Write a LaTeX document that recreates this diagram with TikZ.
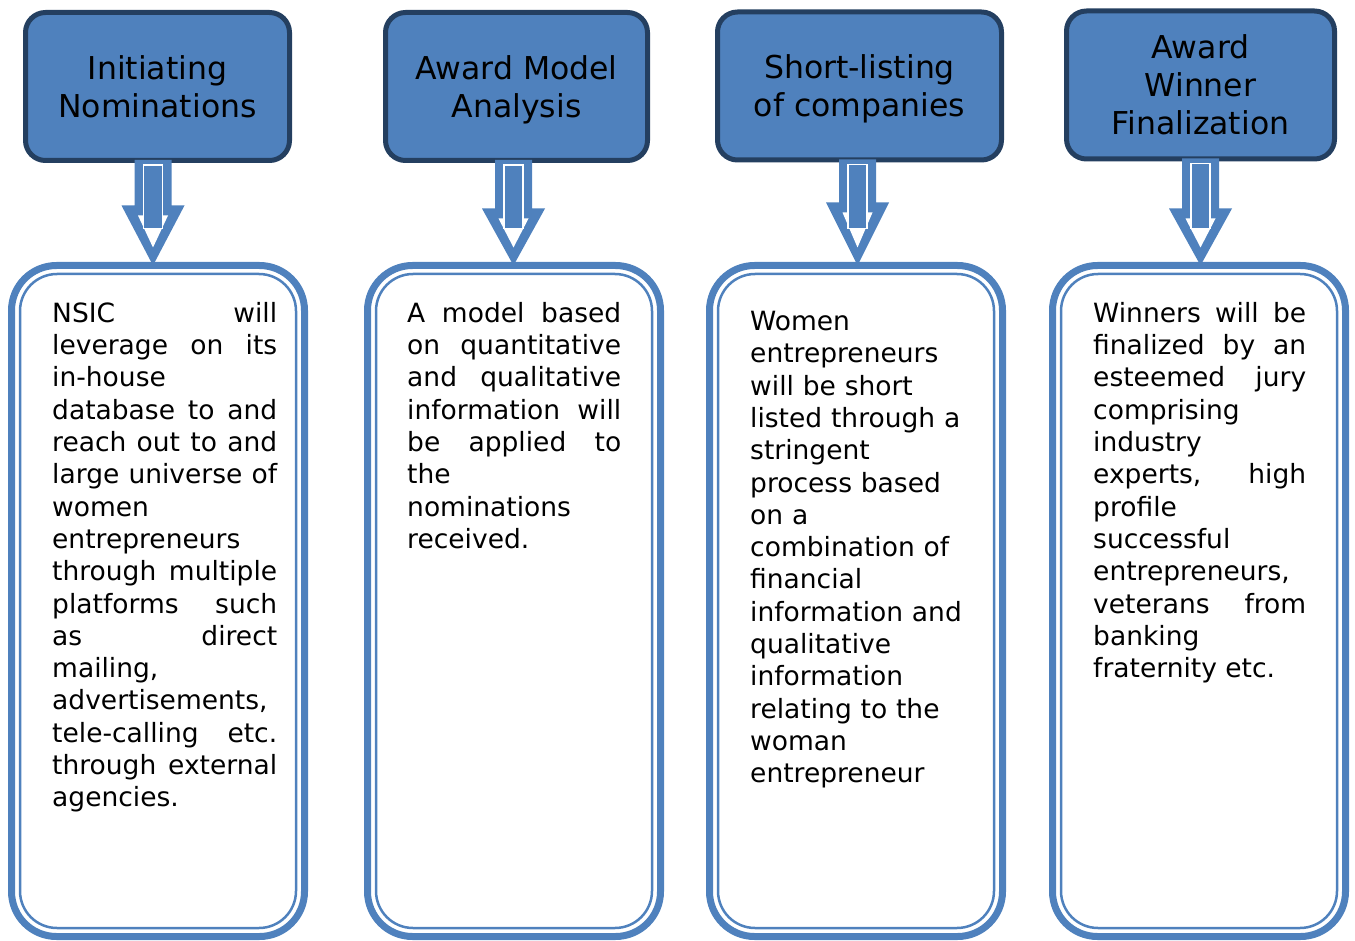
\documentclass[tikz,border=0pt]{standalone}
\usepackage{fontspec}
\setmainfont{DejaVu Sans}
\usetikzlibrary{calc}
\definecolor{boxblue}{HTML}{4F81BD}
\definecolor{edgeblue}{HTML}{243F60}
\begin{document}
\begin{tikzpicture}[x=1pt,y=-1pt,
  head/.style={draw=edgeblue,fill=boxblue,line width=5pt,rounded corners=20pt,align=center,
    font=\fontsize{31.5}{38}\selectfont,minimum height=148pt,text depth=0pt},
  panel/.style={draw=boxblue,line width=7pt,rounded corners=45pt,outer sep=0pt,
    minimum width=293pt,minimum height=671pt},
  lining/.style={draw=boxblue,line width=2.5pt,rounded corners=37pt},
  body/.style={anchor=north west,inner sep=0pt,text width=#1pt,
    font=\fontsize{26.5}{32.3}\selectfont\tolerance10000\hbadness10000\hyphenpenalty10000\exhyphenpenalty10000\relax}]
\useasboundingbox (0,0) rectangle (1355,941);
\node[panel] (b1) at (158,601) {};
\node[panel] (b2) at (514,601) {};
\node[panel] (b3) at (856,601) {};
\node[panel] (b4) at (1199,601) {};
\foreach \i in {1,...,4}
  \draw[lining] ([xshift=8.5pt,yshift=-8.5pt]b\i.north west) rectangle ([xshift=-8.5pt,yshift=8.5pt]b\i.south east);
\node[head,minimum width=264pt] (t1) at (157.5,86.5) {Initiating\\Nominations};
\node[head,minimum width=262pt] (t2) at (516.5,86.5) {Award Model\\Analysis};
\node[head,minimum width=284pt] (t3) at (859.5,86) {Short-listing\\of companies};
\node[head,minimum width=268pt] (t4) at (1200.5,85) {Award\\Winner\\Finalization};
\coordinate (a1) at (153,262);
\coordinate (a2) at (513.5,262);
\coordinate (a3) at (857.5,262);
\coordinate (a4) at (1200.5,262);
\foreach \i/\h in {1/60pt,2/57pt,3/63pt,4/57pt} {
  \fill[boxblue] let \p1=(t\i.south), \p2=(a\i |- b\i.north) in
    (\x2-18.5pt,\y1+3pt) -- (\x2+18.5pt,\y1+3pt) -- (\x2+18.5pt,\y2+\h) -- (\x2+31.5pt,\y2+\h)
    -- (\x2,\y2) -- (\x2-31.5pt,\y2+\h) -- (\x2-18.5pt,\y2+\h) -- cycle;
  \fill[white] let \p2=(a\i |- b\i.north) in
    (\x2-15pt,\y2+\h-10pt) -- (\x2+15pt,\y2+\h-10pt) -- (\x2,\y2+18pt) -- cycle;
  \draw[white,line width=1.5pt,fill=boxblue] let \p1=(t\i.south), \p2=(a\i |- b\i.north) in
    (\x2-9.5pt,\y1-2pt) rectangle (\x2+9.5pt,\y2+37pt);
}
\node[body=225,align=justify] (n1) at (52,302) {NSIC will\linebreak leverage on its\linebreak in-house\linebreak database to and\linebreak reach out to and\linebreak large universe of\linebreak women\linebreak entrepreneurs\linebreak through multiple\linebreak platforms such\linebreak as direct\linebreak mailing,\linebreak advertisements,\linebreak tele-calling etc.\linebreak through external\linebreak agencies.};
\node[body=214,align=justify] (n2) at (407,302) {A model based\linebreak on quantitative\linebreak and qualitative\linebreak information will\linebreak be applied to\linebreak the\linebreak nominations\linebreak received.};
\node[body=215,align=left] (n3) at (750,311) {Women\\entrepreneurs\\will be short\\listed through a\\stringent\\process based\\on a\\combination of\\financial\\information and\\qualitative\\information\\relating to the\\woman\\entrepreneur};
\node[body=213,align=justify] (n4) at (1093,302) {Winners will be\linebreak finalized by an\linebreak esteemed jury\linebreak comprising\linebreak industry\linebreak experts, high\linebreak profile\linebreak successful\linebreak entrepreneurs,\linebreak veterans from\linebreak banking\linebreak fraternity etc.};
\end{tikzpicture}
\end{document}
